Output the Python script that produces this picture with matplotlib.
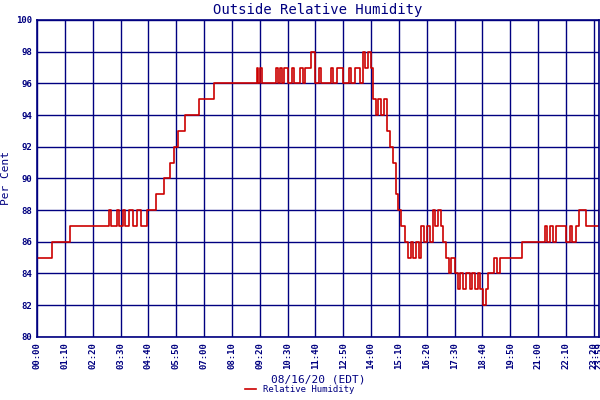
import matplotlib
matplotlib.use("Agg")
import matplotlib.pyplot as plt

# time in minutes since 00:00, humidity (%), step values
times = [0, 37, 82, 180, 185, 200, 205, 215, 222, 232, 240, 250, 262, 277, 300, 320, 335, 345, 355, 372, 407, 445, 455, 552, 556, 560, 565, 600, 605, 610, 616, 622, 630, 640, 646, 660, 668, 675, 690, 700, 708, 715, 740, 745, 755, 770, 785, 790, 800, 812, 820, 825, 832, 840, 845, 852, 858, 866, 872, 880, 888, 895, 902, 907, 915, 925, 932, 940, 946, 952, 960, 966, 972, 980, 988, 995, 1002, 1008, 1015, 1022, 1028, 1035, 1042, 1050, 1058, 1065, 1072, 1080, 1088, 1095, 1102, 1110, 1115, 1122, 1128, 1135, 1150, 1158, 1165, 1170, 1220, 1277, 1283, 1290, 1298, 1305, 1330, 1340, 1345, 1355, 1362, 1382, 1413]
hum   = [85, 86, 87, 88, 87, 88, 87, 88, 87, 88, 87, 88, 87, 88, 89, 90, 91, 92, 93, 94, 95, 96, 96, 97, 96, 97, 96, 97, 96, 97, 96, 97, 96, 97, 96, 97, 96, 97, 98, 96, 97, 96, 97, 96, 97, 96, 97, 96, 97, 96, 98, 97, 98, 97, 95, 94, 95, 94, 95, 93, 92, 91, 89, 88, 87, 86, 85, 86, 85, 86, 85, 87, 86, 87, 86, 88, 87, 88, 87, 86, 85, 84, 85, 84, 83, 84, 83, 84, 83, 84, 83, 84, 83, 82, 83, 84, 85, 84, 85, 85, 86, 87, 86, 87, 86, 87, 86, 87, 86, 87, 88, 87, 88]
xticks = list(range(0, 1401, 70))
xlabels = ["%02d:%02d" % (t // 60, t % 60) for t in xticks]

navy = "#000080"
plt.rcParams['font.family'] = ['DejaVu Sans Mono']
fig = plt.figure(figsize=(6, 4), dpi=100)
ax = fig.add_axes([0.062, 0.158, 0.936, 0.792])
ax.step(times, hum, where='post', color="#cc0000", lw=1.2, label="Relative Humidity")
ax.set_xlim(0, 1413)
ax.set_ylim(80, 100)
ax.set_yticks(range(80, 101, 2))
ax.set_xticks(xticks + [1413])
ax.set_xticklabels(xlabels + ["23:59"], rotation=90, fontsize=6.5, color=navy, fontweight='bold')
ax.tick_params(axis='y', labelsize=6.5, labelcolor=navy, length=0)
ax.tick_params(axis='x', length=0)
for l in ax.get_yticklabels():
    l.set_fontweight('bold')
ax.grid(True, color=navy, lw=1)
for s in ax.spines.values():
    s.set_color(navy)
    s.set_linewidth(1.2)
ax.set_title("Outside Relative Humidity", color=navy, fontsize=10, pad=4)
ax.set_ylabel("Per Cent", color=navy, fontsize=8)
ax.set_xlabel("08/16/20 (EDT)", color=navy, fontsize=8, labelpad=4)
fig.legend(loc='lower center', bbox_to_anchor=(0.5, -0.005), frameon=False, fontsize=6.5, labelcolor=navy, handlelength=1.2)
fig.savefig("out.png", dpi=100)
